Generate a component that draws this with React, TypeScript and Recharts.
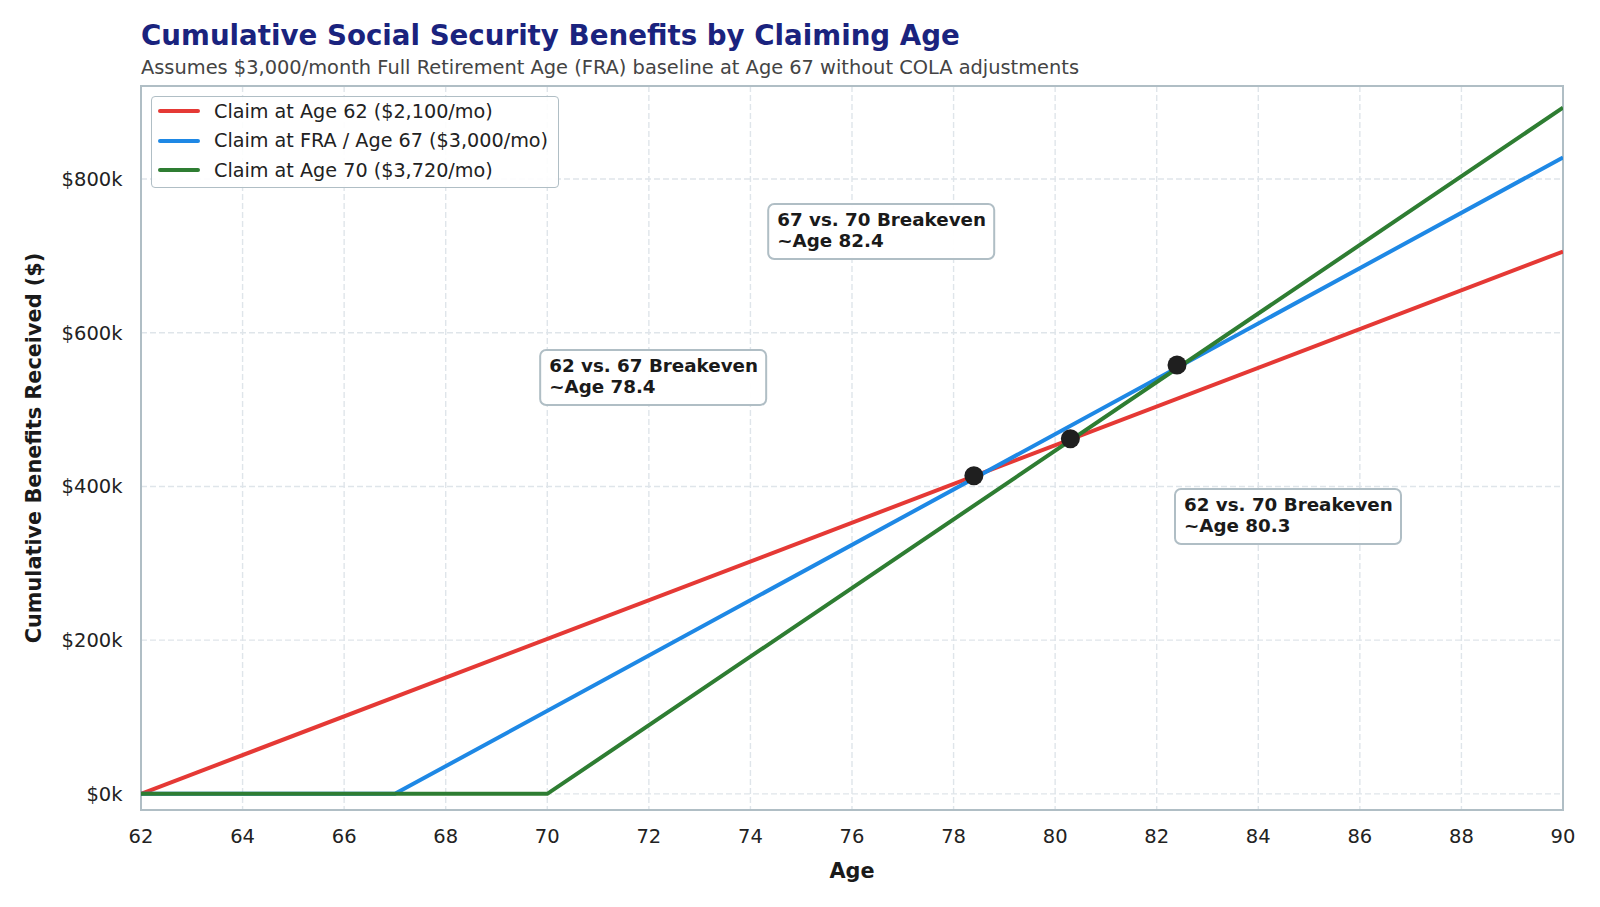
import React from 'react';
import {
  ComposedChart,
  Line,
  Scatter,
  XAxis,
  YAxis,
  CartesianGrid,
  Legend,
  ReferenceArea,
} from 'recharts';

const FONT = '"DejaVu Sans", Verdana, sans-serif';

// ages on the x axis and dollar ticks on the y axis
const AGE_TICKS = [62, 64, 66, 68, 70, 72, 74, 76, 78, 80, 82, 84, 86, 88, 90];
const VALUE_TICKS = [0, 200000, 400000, 600000, 800000];

// cumulative benefits, one array per claiming strategy
const CLAIM_62 = [
  { age: 62, value: 0 },
  { age: 90, value: 705600 },
];
const CLAIM_67 = [
  { age: 62, value: 0 },
  { age: 67, value: 0 },
  { age: 90, value: 828000 },
];
const CLAIM_70 = [
  { age: 62, value: 0 },
  { age: 70, value: 0 },
  { age: 90, value: 892800 },
];

const SERIES_NAMES = [
  'Claim at Age 62 ($2,100/mo)',
  'Claim at FRA / Age 67 ($3,000/mo)',
  'Claim at Age 70 ($3,720/mo)',
];
const SERIES_COLORS = ['#e53935', '#1e88e5', '#2e7d32'];

const BREAKEVENS = [
  { age: 78.4, value: 414000 },
  { age: 80.3, value: 462000 },
  { age: 82.4, value: 558000 },
];

const NOTE_TEXT = [
  ['67 vs. 70 Breakeven', '~Age 82.4'],
  ['62 vs. 67 Breakeven', '~Age 78.4'],
  ['62 vs. 70 Breakeven', '~Age 80.3'],
];

// where each note box sits (top-left corner, in data units)
const NOTE_ANCHORS = [
  { age: 74.35, value: 767500 },
  { age: 69.86, value: 577600 },
  { age: 82.36, value: 396700 },
];

const notes = NOTE_ANCHORS.map((a, i) => ({ ...a, lines: NOTE_TEXT[i] }));

const FRAME = '#b0bec5';

const NoteBox = (props: any) => {
  const { cx, cy, payload } = props;
  if (cx == null || cy == null) return null;
  return (
    <g>
      <rect x={cx} y={cy} width={226} height={55} rx={6} ry={6} fill="#ffffff" fillOpacity={0.95} stroke={FRAME} strokeWidth={2} />
      <text x={cx + 9} y={cy + 22} fontFamily={FONT} fontWeight="bold" fontSize={18.3} fill="#1a1a1a">
        {payload.lines[0]}
      </text>
      <text x={cx + 9} y={cy + 43} fontFamily={FONT} fontWeight="bold" fontSize={18.3} fill="#1a1a1a">
        {payload.lines[1]}
      </text>
    </g>
  );
};

const Dot = (props: any) => {
  const { cx, cy } = props;
  if (cx == null || cy == null) return null;
  return <circle cx={cx} cy={cy} r={9.5} fill="#1f1f1f" />;
};

const LegendBox = () => (
  <div
    style={{
      width: 406,
      height: 90,
      border: `1.5px solid ${FRAME}`,
      borderRadius: 4,
      background: 'rgba(255,255,255,0.9)',
      position: 'relative',
      fontFamily: FONT,
      fontSize: 19.2,
      color: '#222',
    }}
  >
    {SERIES_NAMES.map((name, i) => (
      <div key={name} style={{ position: 'absolute', left: 0, top: 14 + i * 29.5 - 12, height: 24, display: 'flex', alignItems: 'center' }}>
        <div style={{ width: 42, height: 4, marginLeft: 6, background: SERIES_COLORS[i], borderRadius: 2 }} />
        <span style={{ marginLeft: 14, whiteSpace: 'nowrap' }}>{name}</span>
      </div>
    ))}
  </div>
);

const App = () => {
  const money = (v: number) => `$${Math.round(v / 1000)}k`;
  return (
    <div style={{ position: 'absolute', left: 0, top: 0, width: 1600, height: 907, background: '#fff' }}>
      <svg width={1600} height={907} style={{ position: 'absolute', left: 0, top: 0, pointerEvents: 'none' }}>
        <text x={141} y={45} fontFamily={FONT} fontWeight="bold" fontSize={27.7} fill="#1a237e">
          Cumulative Social Security Benefits by Claiming Age
        </text>
        <text x={141} y={74} fontFamily={FONT} fontSize={19.4} fill="#444444">
          Assumes $3,000/month Full Retirement Age (FRA) baseline at Age 67 without COLA adjustments
        </text>
      </svg>
      <div style={{ position: 'absolute', left: 0, top: 0 }}>
        <ComposedChart width={1600} height={907} margin={{ top: 86, right: 37, bottom: 17, left: 10 }}>
          <CartesianGrid stroke="#dfe5ea" strokeDasharray="6 3" strokeWidth={1.4} />
          <XAxis
            type="number"
            dataKey="age"
            domain={[62, 90]}
            ticks={AGE_TICKS}
            allowDataOverflow
            axisLine={false}
            tickLine={false}
            tickMargin={13}
            height={80}
            tick={{ fill: '#222', fontSize: 19.5, fontFamily: FONT }}
            label={{ value: 'Age', position: 'insideBottom', offset: 12, fill: '#1a1a1a', fontSize: 20.8, fontWeight: 'bold', fontFamily: FONT }}
          />
          <YAxis
            type="number"
            dataKey="value"
            domain={[-21000, 921000]}
            ticks={VALUE_TICKS}
            allowDataOverflow
            axisLine={false}
            tickLine={false}
            tickMargin={12.5}
            width={131}
            tickFormatter={money}
            tick={{ fill: '#222', fontSize: 19.5, fontFamily: FONT }}
            label={{
              value: 'Cumulative Benefits Received ($)',
              angle: -90,
              position: 'insideLeft',
              offset: 24,
              fill: '#1a1a1a',
              fontSize: 20.8,
              fontWeight: 'bold',
              fontFamily: FONT,
              style: { textAnchor: 'middle' },
            }}
          />
          <ReferenceArea x1={62} x2={90} y1={-21000} y2={921000} fill="none" stroke={FRAME} strokeWidth={2} ifOverflow="visible" />
          <Line data={CLAIM_62} dataKey="value" name={SERIES_NAMES[0]} stroke={SERIES_COLORS[0]} strokeWidth={4} dot={false} activeDot={false} isAnimationActive={false} />
          <Line data={CLAIM_67} dataKey="value" name={SERIES_NAMES[1]} stroke={SERIES_COLORS[1]} strokeWidth={4} dot={false} activeDot={false} isAnimationActive={false} />
          <Line data={CLAIM_70} dataKey="value" name={SERIES_NAMES[2]} stroke={SERIES_COLORS[2]} strokeWidth={4} dot={false} activeDot={false} isAnimationActive={false} />
          <Scatter data={BREAKEVENS} dataKey="value" shape={Dot} isAnimationActive={false} legendType="none" />
          <Scatter data={notes} dataKey="value" shape={NoteBox} isAnimationActive={false} legendType="none" />
          <Legend
            layout="vertical"
            align="center"
            verticalAlign="middle"
            content={() => <LegendBox />}
            wrapperStyle={{ left: 151, top: 96, width: 408, height: 92 }}
          />
        </ComposedChart>
      </div>
    </div>
  );
};

export default App;
